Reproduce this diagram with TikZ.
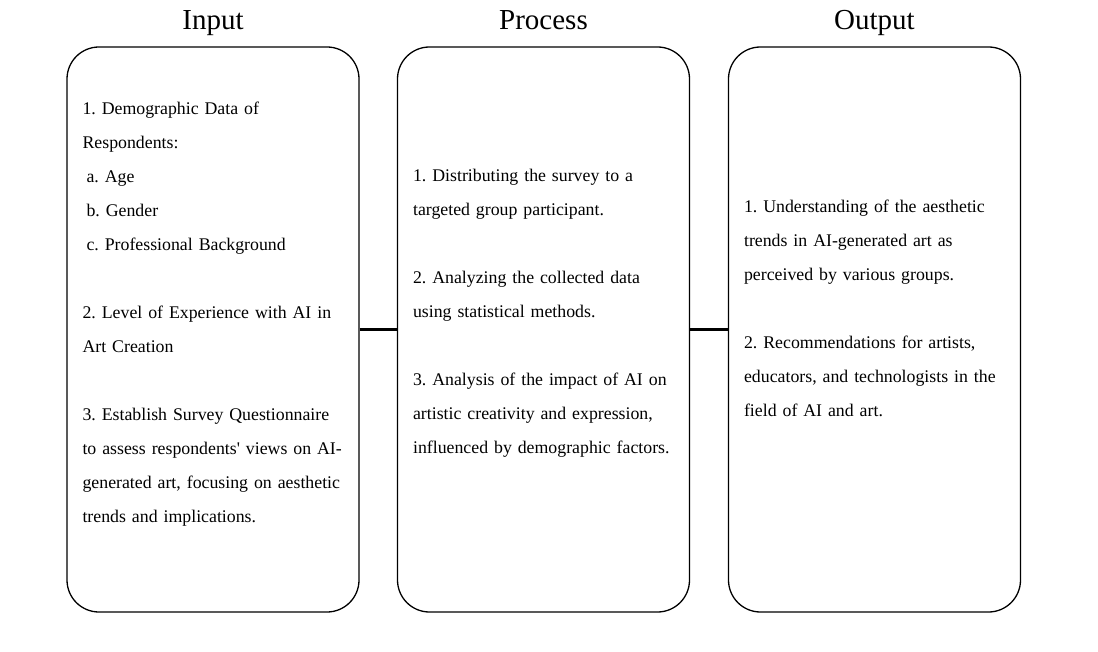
\documentclass[tikz,border=0pt]{standalone}
\usepackage{fontspec}
\setmainfont{Liberation Serif}
\usetikzlibrary{positioning}
\frenchspacing
\newcommand\stagefont{\fontsize{17.8}{34}\selectfont\spaceskip=3.6pt\relax}
\tikzset{
  stage/.style={draw, line width=1.3pt, rounded corners=32pt,
    minimum width=292pt, minimum height=565pt, inner sep=0pt},
  stagetitle/.style={font=\fontsize{29}{32}\selectfont, anchor=base, inner sep=0pt},
  stagetext/.style={font=\stagefont, anchor=base west,
    text width=290pt, align=left, inner sep=0pt},
  link/.style={line width=2.4pt}
}
\begin{document}
\begin{tikzpicture}[x=1pt,y=-1pt]
      \useasboundingbox (0,0) rectangle (1098,652);
      \node[stage] (input) at (213,329.5) {};
      \node[stage] (process) at (543.5,329.5) {};
      \node[stage] (output) at (874.5,329.5) {};
      % titles
      \node[stagetitle] (inputtitle) at ([yshift=17pt]input.north) {Input};
      \node[stagetitle] (processtitle) at ([yshift=17pt]process.north) {Process};
      \node[stagetitle] (outputtitle) at ([yshift=17pt]output.north) {Output};
      % contents
      \node[stagetext] (inputtext) at ([xshift=16pt,yshift=-68pt]input.north west)
        {1. Demographic Data of\\
         Respondents:\\
         \hspace*{4pt}a. Age\\
         \hspace*{4pt}b. Gender\\
         \hspace*{4pt}c. Professional Background\\[34pt]
         2. Level of Experience with AI in\\
         Art Creation\\[34pt]
         3. Establish Survey Questionnaire\\
         to assess respondents\textquotesingle{} views on AI-\\
         generated art, focusing on aesthetic\\
         trends and implications.};
      \node[stagetext] (processtext) at ([xshift=16pt,yshift=-135pt]process.north west)
        {1. Distributing the survey to a\\
         targeted group participant.\\[34pt]
         2. Analyzing the collected data\\
         using statistical methods.\\[34pt]
         3. Analysis of the impact of AI on\\
         artistic creativity and expression,\\
         influenced by demographic factors.};
      \node[stagetext] (outputtext) at ([xshift=16pt,yshift=-166pt]output.north west)
        {1. Understanding of the aesthetic\\
         trends in AI-generated art as\\
         perceived by various groups.\\[34pt]
         2. Recommendations for artists,\\
         educators, and technologists in the\\
         field of AI and art.};
      \draw[link] (input.east) -- (process.west);
      \draw[link] (process.east) -- (output.west);
    \end{tikzpicture}
\end{document}
